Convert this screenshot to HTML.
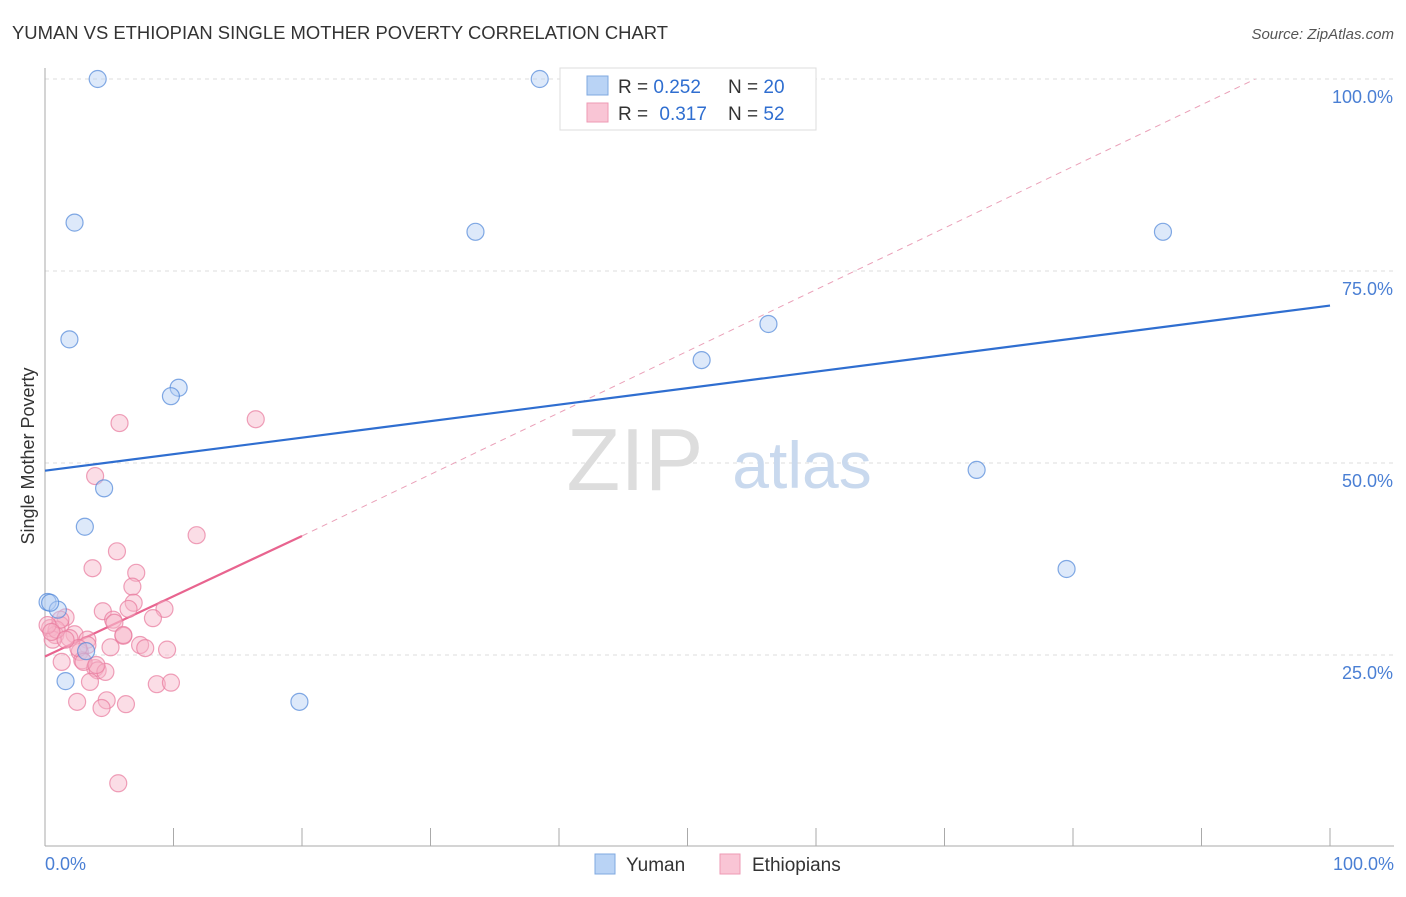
<!DOCTYPE html>
<html><head><meta charset="utf-8"><style>
body{margin:0;background:#fff;font-family:"Liberation Sans",sans-serif}
svg text{font-family:"Liberation Sans",sans-serif}
</style></head><body>
<svg id="chart" width="1406" height="892" viewBox="0 0 1406 892" xmlns="http://www.w3.org/2000/svg">
<text x="12" y="39" font-size="18" fill="#333" textLength="656" lengthAdjust="spacingAndGlyphs">YUMAN VS ETHIOPIAN SINGLE MOTHER POVERTY CORRELATION CHART</text>
<text x="1394" y="39" font-size="15" fill="#555" font-style="italic" text-anchor="end">Source: ZipAtlas.com</text>
<g id="grid"></g>
<g><text x="635" y="490" font-size="88" fill="#ddd" font-family="Liberation Serif" text-anchor="middle">ZIP</text><text x="802" y="488" font-size="66" fill="#c9d9ee" text-anchor="middle">atlas</text></g>
<line x1="45" y1="68" x2="45" y2="846" stroke="#aaa"/>
<line x1="45" y1="846" x2="1394" y2="846" stroke="#aaa"/>
<g id="xticks"></g>
<g id="ylabels"></g>
<text x="34" y="456" font-size="18" fill="#333" text-anchor="middle" transform="rotate(-90 34 456)">Single Mother Poverty</text>
<text x="45" y="870" font-size="18" fill="#4a7fd4">0.0%</text>
<text x="1394" y="870" font-size="18" fill="#4a7fd4" text-anchor="end">100.0%</text>
<g id="lines"></g>
<g id="pts"></g>
<g>
<rect x="560" y="68" width="256" height="62" fill="#fff" stroke="#ddd"/>
<rect x="587" y="76" width="21" height="19" fill="#b9d3f5" stroke="#7fa8e0"/>
<rect x="587" y="103" width="21" height="19" fill="#f9c5d5" stroke="#ee9ab4"/>
<text x="618" y="93" font-size="19" fill="#333">R = <tspan fill="#2f6ed0">0.252</tspan></text>
<text x="728" y="93" font-size="19" fill="#333">N = <tspan fill="#2f6ed0">20</tspan></text>
<text x="618" y="120" font-size="19" fill="#333">R = <tspan fill="#2f6ed0" dx="6">0.317</tspan></text>
<text x="728" y="120" font-size="19" fill="#333">N = <tspan fill="#2f6ed0">52</tspan></text>
</g>
<g>
<rect x="595" y="854" width="20" height="20" fill="#b9d3f5" stroke="#7fa8e0"/>
<text x="626" y="871" font-size="19" fill="#333">Yuman</text>
<rect x="720" y="854" width="20" height="20" fill="#f9c5d5" stroke="#ee9ab4"/>
<text x="752" y="871" font-size="19" fill="#333">Ethiopians</text>
</g>
</svg>
<script>
const yumanX=[4.1,38.5,2.3,33.5,87.0,1.9,56.3,51.1,10.4,9.8,72.5,4.6,3.1,79.5,0.2,1.0,3.2,1.6,19.8,0.4];
const yumanY=[100,100,81.3,80.1,80.1,66.1,68.1,63.4,59.8,58.7,49.1,46.7,41.7,36.2,31.9,30.9,25.5,21.6,18.9,31.8];
const ethX=[5.8,16.4,3.9,11.8,5.6,3.7,7.1,6.8,6.9,9.3,4.5,6.5,8.4,5.3,1.6,1.2,0.4,0.8,2.3,1.9,0.6,3.3,5.4,6.1,7.4,7.8,9.5,5.1,3.3,2.7,2.9,1.3,3.9,4.1,4.7,3.5,8.7,9.8,2.5,4.8,4.4,6.3,5.7,0.9,1.2,0.2,2.6,3.0,4.0,6.1,0.5,1.6];
const ethY=[55.2,55.7,48.3,40.6,38.5,36.3,35.7,33.9,31.8,31.0,30.7,31.0,29.8,29.6,29.9,28.9,28.5,27.6,27.7,27.2,27.0,27.0,29.2,27.5,26.3,25.9,25.7,26.0,26.3,25.4,24.3,24.1,23.3,23.0,22.8,21.5,21.2,21.4,18.9,19.1,18.1,18.6,8.3,28.3,29.6,28.9,25.9,24.1,23.7,27.6,28.0,27.0];
const yTicks=[25,50,75,100];
const yTickLabels=["25.0%","50.0%","75.0%","100.0%"];
const xTicks=[0,10,20,30,40,50,60,70,80,90,100];
const yumanLine=[49.0,70.5];
const ethLine=[24.8,40.5];
const ethLineEnd=20;
const ethDashEnd=[94.2,100];
const X=v=>45+v*12.85, Y=v=>847-v*7.68;
const NS="http://www.w3.org/2000/svg";
function mk(t,a,p){const e=document.createElementNS(NS,t);for(const k in a)e.setAttribute(k,a[k]);p.appendChild(e);return e;}
const g=document.getElementById('grid'),yl=document.getElementById('ylabels'),xt=document.getElementById('xticks');
yTicks.forEach((v,i)=>{
 const l=mk('line',{x1:45,x2:1394,y1:Y(v),y2:Y(v),stroke:'#ddd','stroke-dasharray':'4,4'},g);
 
 
 const t=mk('text',{x:1393,y:Y(v)+24,'font-size':18,fill:'#4a7fd4','text-anchor':'end'},yl);
 t.textContent=yTickLabels[i];
 
 
});
xTicks.forEach(v=>{
 const l=mk('line',{x1:X(v),x2:X(v),y1:828,y2:846,stroke:'#aaa'},xt);
 
 
});
const L=document.getElementById('lines');
let a=mk('line',{x1:X(ethLineEnd),y1:Y(ethLine[1]),x2:X(ethDashEnd[0]),y2:Y(ethDashEnd[1]),stroke:'#eaa0b8','stroke-dasharray':'6,5'},L);


const P=document.getElementById('pts');
function pts(xs,ys,fill,stroke,name){xs.forEach((x,i)=>{
 const c=mk('circle',{cx:X(x),cy:Y(ys[i]),r:8.5,fill:fill,'fill-opacity':0.45,stroke:stroke,'stroke-opacity':0.7,'stroke-width':1.2},P);
 
 
});}
pts(ethX,ethY,'#f7b3c8','#e8799c','ethiopians-point');
pts(yumanX,yumanY,'#b3cff4','#4f86d8','yuman-point');
a=mk('line',{x1:X(0),y1:Y(yumanLine[0]),x2:X(100),y2:Y(yumanLine[1]),stroke:'#2f6ed0','stroke-width':2.2},L);


a=mk('line',{x1:X(0),y1:Y(ethLine[0]),x2:X(ethLineEnd),y2:Y(ethLine[1]),stroke:'#e8648f','stroke-width':2.2},L);


</script>
</body></html>
